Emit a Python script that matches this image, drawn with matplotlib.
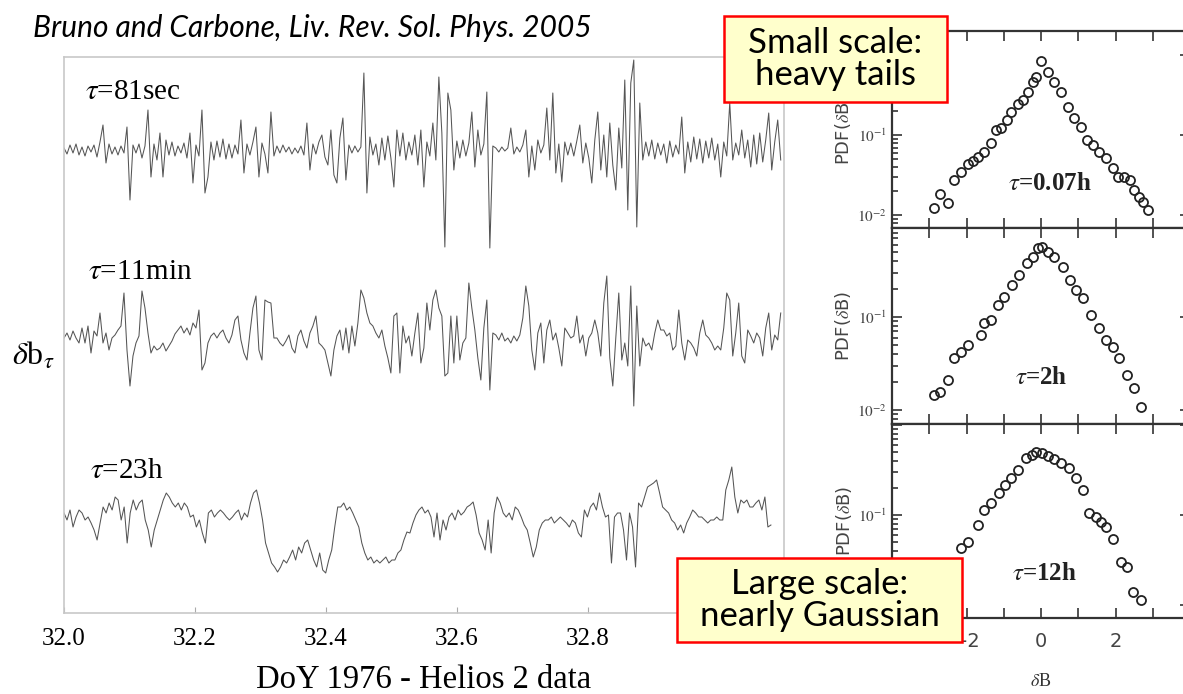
"""
Helios 2 magnetic field increments (left) and their PDFs at three scales (right),
after Bruno and Carbone, Liv. Rev. Sol. Phys. 2005.
"""

import numpy as np
import matplotlib
matplotlib.use("Agg")
import matplotlib.pyplot as plt
from matplotlib.patches import Rectangle
from matplotlib.ticker import FixedLocator, FixedFormatter, LogLocator, NullFormatter

plt.rcParams["font.family"] = ["Liberation Serif", "DejaVu Serif"]
plt.rcParams["mathtext.fontset"] = "stix"

# ---------------------------------------------------------------------------
# Data: increments delta b_tau (arbitrary units)
# ---------------------------------------------------------------------------
doy_start, doy_end_1, doy_end_3 = 32.0, 33.095, 33.08

db_81sec = [
    2, -4, 5, -3, 6, -5, 3, -6, 4, -2,
    5, -7, 8, 25, -13, 6, -4, 3, -5, 4,
    -3, 23, -50, 5, -3, 6, -8, 4, 40, -27,
    6, -10, 17, -27, 10, -5, 8, -6, 4, -3,
    7, -8, 17, -33, 5, -6, 40, -43, -27, 8,
    -10, 9, -7, 11, -9, 6, -8, 5, -4, 30,
    -23, 6, -5, 8, 23, -27, 7, -4, -23, 38,
    -6, 4, -3, 5, -2, 3, -4, 2, -3, 4,
    -5, 27, -20, 6, -4, 8, 15, -7, -15, 20,
    -25, -33, 12, 32, -30, 5, -3, 4, -2, 3,
    77, -43, 13, -5, 6, -15, 12, -10, 14, -8,
    -37, 20, -6, 17, -10, 8, -5, 15, -15, 20,
    -37, 8, -6, 27, -10, 73, 17, -97, 57, 40,
    -20, 9, -8, 10, -6, 7, 38, -17, 20, -5,
    6, 58, -98, 4, 2, -2, 3, -1, 2, 22,
    -4, 3, -2, 5, 20, -27, 4, -20, 10, -3,
    5, 42, -10, 57, -23, 6, -32, 8, -5, 7,
    -6, 9, 25, -13, 7, -8, -33, 10, 38, -20,
    15, -27, 27, -15, -40, 22, -18, 70, -60, 67,
    90, -77, 47, -10, 8, -6, 10, -9, 7, -5,
    6, -13, 9, -7, 5, -4, 33, -23, 8, -12,
    13, -9, 11, -13, 9, -8, 12, -10, 6, -27,
    8, -6, 47, -10, 7, -5, 20, -8, 10, -17,
    15, -14, 17, -12, 10, 37, -20, 8, 30, -10,
]

db_11min = [
    0, 5, -2, 7, 0, -5, 10, -5, 12, -15,
    7, 2, 25, -5, 5, -12, 0, 3, 8, 12,
    45, -12, -48, -18, -5, 2, 47, 30, 5, -15,
    -8, -12, -10, -5, -13, -8, -3, 4, 8, 12,
    5, 10, 3, 15, 10, 28, -32, -25, -5, 2,
    5, 0, 5, 8, 0, -5, 3, 18, 22, -2,
    -15, -22, 5, 30, 42, -12, -22, 38, 36, 35,
    0, 0, -5, -8, -3, 3, -10, -15, 2, 8,
    -3, -10, 5, 12, 22, -5, -8, -12, -25, -38,
    -12, 2, 8, -12, 10, -15, 12, -8, 15, 48,
    40, 25, 15, 12, 5, 0, 8, -8, -20, -35,
    22, 25, -35, 12, -5, 2, -18, 5, 25, -25,
    -10, 35, 8, 38, 48, 30, 22, -38, -35, 22,
    -25, 22, -22, -5, 0, 55, 30, 8, -20, -42,
    10, 38, -52, 5, 3, -2, 5, -3, 0, -5,
    2, -3, 3, 20, 52, 32, -12, -32, 5, 15,
    -25, 8, 18, -2, 5, -10, -28, 10, 5, 0,
    2, 22, -5, 3, -18, 0, 5, 18, 5, -18,
    35, 62, -20, -48, 0, 45, -22, -5, -28, 52,
    -68, 32, -28, 0, -8, -5, -12, 5, 18, 8,
    8, 2, 5, -12, -8, 28, -5, -22, -2, -5,
    -10, -18, 5, 18, 3, 0, -5, -12, -8, -12,
    10, 45, 38, -18, 5, 35, -18, -25, 8, 2,
    -5, 5, 0, -18, 10, 25, -12, 3, -2, 25,
]

db_23h = [
    7, 0, 10, -7, 3, 10, 7, 0, 3, -3,
    -10, -20, -3, 13, 7, 17, 10, 23, 20, 0,
    13, -23, 7, 20, 10, 17, 20, 0, -10, -27,
    -10, 0, 10, 20, 27, 23, 17, 13, 17, 10,
    17, 13, 3, 5, -7, 0, -13, -23, 7, 10,
    3, 7, 10, 7, 3, 0, 3, 7, 10, 0,
    7, 3, 17, 27, 30, 17, 0, -23, -33, -43,
    -47, -52, -47, -40, -43, -37, -30, -40, -27, -33,
    -23, -20, -30, -40, -47, -33, -50, -53, -40, -30,
    -7, 13, 13, 17, 10, 13, 7, 0, -7, -23,
    -33, -40, -37, -43, -40, -43, -40, -37, -43, -40,
    -40, -33, -30, -20, -12, -13, -3, 5, 10, 13,
    7, 10, 3, -17, 7, -20, 0, -10, 3, 7,
    0, 10, 5, 8, 13, 15, 18, 5, -13, -20,
    -30, 0, -33, 7, 23, 17, 7, 3, 7, 0,
    13, 10, 3, -5, -10, -23, -37, -27, -10, -3,
    0, 0, 3, -3, 0, 3, 0, -3, -7, 0,
    -3, -13, -17, 10, 3, 13, 17, 10, 27, 13,
    3, 5, -43, 3, 7, 7, -10, -40, 7, -7,
    -47, 17, 13, 23, 33, 35, 37, 40, 27, 13,
    10, 7, 0, -3, -10, -5, -13, -3, 3, 10,
    7, 3, 3, 0, -3, 0, 0, 3, 0, 0,
    30, 40, 53, 23, 7, 20, 17, 20, 13, 13,
    17, 20, 10, 23, -7, -5,
]

trace_labels = [r"$\tau$=81sec", r"$\tau$=11min", r"$\tau$=23h"]
doy_ticks = [32.0, 32.2, 32.4, 32.6, 32.8, 33.0]
# 33.0 is hidden by the call-out box in the source, so it gets no label
doy_ticklabels = ["32.0", "32.2", "32.4", "32.6", "32.8", ""]

# ---------------------------------------------------------------------------
# Data: PDF(delta B) at three scales
# ---------------------------------------------------------------------------
dB_007h = [-2.88, -2.70, -2.50, -2.34, -2.14, -1.97, -1.83, -1.68, -1.52, -1.34,
           -1.21, -1.07, -0.91, -0.80, -0.63, -0.49, -0.34, -0.21, -0.13, 0.00,
           0.18, 0.36, 0.54, 0.73, 0.89, 1.07, 1.23, 1.39, 1.56, 1.74,
           1.92, 2.07, 2.23, 2.39, 2.50, 2.64, 2.73, 2.86]
pdf_007h = [0.0122, 0.0182, 0.0140, 0.0275, 0.0347, 0.0442, 0.0479, 0.0537, 0.0617, 0.0804,
            0.115, 0.124, 0.155, 0.195, 0.245, 0.275, 0.347, 0.462, 0.537, 0.851,
            0.617, 0.462, 0.347, 0.226, 0.162, 0.127, 0.0871, 0.0750, 0.0617, 0.0513,
            0.0385, 0.0302, 0.0302, 0.0275, 0.0204, 0.0170, 0.0146, 0.0115]

dB_2h = [-2.88, -2.70, -2.50, -2.34, -2.14, -1.97, -1.61, -1.52, -1.34, -1.16,
         -0.98, -0.79, -0.58, -0.375, -0.21, -0.09, 0.02, 0.18, 0.36, 0.58,
         0.79, 0.94, 1.12, 1.34, 1.56, 1.74, 1.92, 2.09, 2.32, 2.50, 2.68]
pdf_2h = [0.0145, 0.0157, 0.0211, 0.0359, 0.0422, 0.0501, 0.0638, 0.0856, 0.0928, 0.135,
          0.166, 0.221, 0.282, 0.378, 0.447, 0.550, 0.569, 0.501, 0.447, 0.347,
          0.251, 0.195, 0.162, 0.105, 0.0759, 0.0569, 0.0479, 0.0359, 0.0237, 0.0172, 0.0108]

dB_12h = [-2.14, -1.97, -1.70, -1.54, -1.34, -1.12, -0.97, -0.80, -0.61, -0.40,
          -0.25, -0.13, 0.02, 0.18, 0.36, 0.55, 0.76, 0.94, 1.12, 1.30,
          1.47, 1.61, 1.74, 1.92, 2.14, 2.31, 2.46, 2.68]
pdf_12h = [0.0427, 0.0507, 0.0776, 0.1135, 0.135, 0.174, 0.216, 0.257, 0.316, 0.427,
           0.462, 0.507, 0.484, 0.447, 0.417, 0.376, 0.331, 0.257, 0.191, 0.105,
           0.0955, 0.0841, 0.0741, 0.0550, 0.0302, 0.0266, 0.0141, 0.0114]

pdf_labels = [r"$\tau$=0.07h", r"$\tau$=2h", r"$\tau$=12h"]

# ---------------------------------------------------------------------------
# Figure
# ---------------------------------------------------------------------------
W, H = 1183, 694
fig = plt.figure(figsize=(W / 100, H / 100), dpi=100)

# ── Left: time series ──────────────────────────────────────────────────────
ax = fig.add_axes([64 / W, 1 - 613 / H, 720 / W, 556 / H])
series = [db_81sec, db_11min, db_23h]
ends = [doy_end_1, doy_end_1, doy_end_3]
offsets = [463, 275, 93]
label_pos = [(32.032, 521), (32.037, 341), (32.040, 142)]
for vals, end, off, lab, (lx, ly) in zip(series, ends, offsets, trace_labels, label_pos):
    t = np.linspace(doy_start, end, len(vals))
    ax.plot(t, off + np.asarray(vals), color="#555555", lw=0.75)
    ax.text(lx, ly, lab, fontsize=21, va="center", ha="left")

ax.set_xlim(32.0, 33.1)
ax.set_ylim(0, 556)
ax.set_xticks(doy_ticks)
ax.set_xticklabels(doy_ticklabels)
ax.set_yticks([])
ax.tick_params(axis="x", direction="in", length=4, color="#aaaaaa", labelsize=18, pad=11)
for sp in ax.spines.values():
    sp.set_color("#c8c8c8")
    sp.set_linewidth(1.2)
ax.set_xlabel("DoY 1976 - Helios 2 data", fontsize=23.5, labelpad=10)

fig.text(12 / W, 1 - 356 / H, r"$\delta$b$_\tau$", fontsize=23, va="center", ha="left")

# ── Right: PDFs ────────────────────────────────────────────────────────────
x0, x1 = 892 / W, 1190 / W
rows = [(31, 228), (228, 424), (424, 618)]
ylims = [(10 ** -2.16, 10 ** 0.3), (10 ** -2.15, 10 ** -0.043), (10 ** -2.14, 10 ** 0.01)]
pdf_x = [dB_007h, dB_2h, dB_12h]
pdf_y = [pdf_007h, pdf_2h, pdf_12h]
tau_pos = [(0.53, 0.228), (0.50, 0.235), (0.513, 0.227)]

for k, ((top, bot), yl, xs, ys, lab, tp) in enumerate(
        zip(rows, ylims, pdf_x, pdf_y, pdf_labels, tau_pos)):
    a = fig.add_axes([x0, 1 - bot / H, x1 - x0, (bot - top) / H])
    a.plot(xs, ys, "o", mfc="none", mec="#222222", ms=6.5, mew=1.3)
    a.set_yscale("log")
    a.set_xlim(-4, 4)
    a.set_ylim(*yl)
    a.xaxis.set_major_locator(FixedLocator([-3, -2, -1, 0, 1, 2, 3]))
    a.yaxis.set_major_locator(FixedLocator([1e-2, 1e-1, 1.0]))
    if k == 2:
        a.xaxis.set_major_formatter(FixedFormatter(["", "\u22122", "", "0", "", "2", ""]))
        a.set_xlabel(r"$\delta$B", fontsize=13, labelpad=16, color="#333333")
        # the 10^-2 label sits under the call-out box in the source figure
        a.yaxis.set_major_formatter(FixedFormatter(["", r"$10^{-1}$", ""]))
    else:
        a.xaxis.set_major_formatter(NullFormatter())
        a.yaxis.set_major_formatter(FixedFormatter([r"$10^{-2}$", r"$10^{-1}$", ""]))
    a.yaxis.set_minor_locator(LogLocator(base=10, subs=(2, 3, 4, 5, 6, 7, 8, 9)))
    a.yaxis.set_minor_formatter(NullFormatter())
    a.tick_params(which="both", direction="in", top=True, right=True,
                  color="#333333", width=1.2, labelcolor="#444444")
    a.tick_params(which="major", length=7, labelsize=11)
    a.tick_params(which="minor", length=4)
    a.tick_params(axis="x", labelsize=14, pad=10)
    for tl in a.get_yticklabels() + a.get_xticklabels():
        tl.set_family("DejaVu Sans")
    for sp in a.spines.values():
        sp.set_color("#333333")
        sp.set_linewidth(1.6)
    a.set_ylabel(r"PDF($\delta$B)", fontsize=13, family="DejaVu Sans",
                 color="#444444", labelpad=3)
    a.text(tp[0], tp[1], lab, transform=a.transAxes, fontsize=18,
           fontweight="bold", ha="center", va="center", color="#222222")

# ── Credit and call-out boxes ──────────────────────────────────────────────
fig.text(33 / W, 1 - 28 / H, "Bruno and Carbone, Liv. Rev. Sol. Phys. 2005",
         family=["Lato", "DejaVu Sans"], style="italic", fontsize=21.5,
         va="center", ha="left")

boxes = [((724, 16, 947, 102), "Small scale:\nheavy tails"),
         ((677, 558, 962, 642), "Large scale:\nnearly Gaussian")]
for (bx0, by0, bx1, by1), txt in boxes:
    fig.add_artist(Rectangle((bx0 / W, 1 - by1 / H), (bx1 - bx0) / W, (by1 - by0) / H,
                             transform=fig.transFigure, facecolor="#ffffcc",
                             edgecolor="red", linewidth=1.8, zorder=5))
    fig.text((bx0 + bx1) / 2 / W, 1 - (by0 + by1) / 2 / H, txt,
             family=["Lato", "DejaVu Sans"], fontsize=25, ha="center", va="center",
             linespacing=1.0, zorder=6)

fig.savefig("out.png", dpi=100)
